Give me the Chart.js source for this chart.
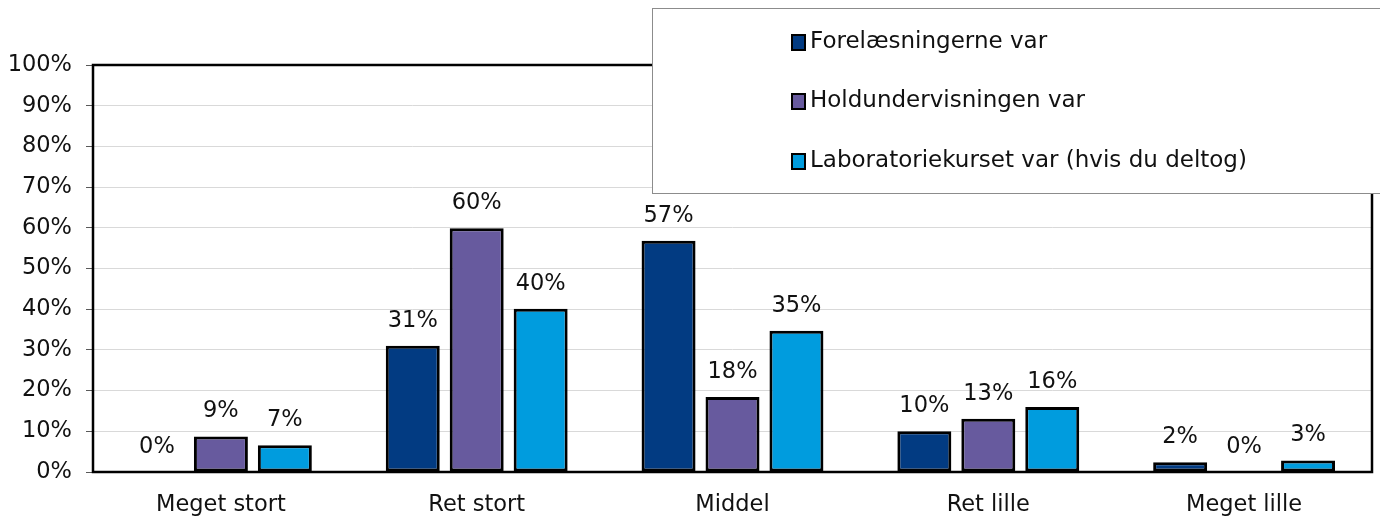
<!DOCTYPE html>
<html>
<head>
<meta charset="utf-8">
<script src="https://cdn.jsdelivr.net/npm/chart.js@4/dist/chart.umd.min.js"></script>
<style>
html,body{margin:0;padding:0;background:#fff;}
#wrap{width:1380px;height:519px;position:relative;}
</style>
</head>
<body>
<div id="wrap"><canvas id="c" width="1380" height="519"></canvas></div>
<script>
const categories = ["Meget stort", "Ret stort", "Middel", "Ret lille", "Meget lille"];
const seriesNames = ["Forelæsningerne var", "Holdundervisningen var", "Laboratoriekurset var (hvis du deltog)"];
const forelaesninger = [0, 0.31, 0.568, 0.10, 0.024];
const holdundervisning = [0.087, 0.599, 0.184, 0.131, 0];
const laboratorie = [0.066, 0.401, 0.347, 0.16, 0.028];
const yTicks = [0, 0.1, 0.2, 0.3, 0.4, 0.5, 0.6, 0.7, 0.8, 0.9, 1.0];
const colors = ["#023B82", "#675A9E", "#009CDE"];

const FONT = "'DejaVu Sans', sans-serif";

const labelPlugin = {
  id: 'valueLabels',
  afterDatasetsDraw(chart) {
    const ctx = chart.ctx;
    ctx.save();
    ctx.font = "22.5px " + FONT;
    ctx.fillStyle = "#111";
    ctx.textAlign = "center";
    ctx.textBaseline = "middle";
    chart.data.datasets.forEach((ds, i) => {
      const meta = chart.getDatasetMeta(i);
      meta.data.forEach((bar, j) => {
        const v = ds.data[j];
        ctx.fillText(Math.round(v * 100) + "%", bar.x, bar.y - 25);
      });
    });
    // plot frame
    const a = chart.chartArea;
    ctx.strokeStyle = "#000";
    ctx.lineWidth = 2.5;
    ctx.strokeRect(a.left, a.top, a.right - a.left, a.bottom - a.top);
    ctx.restore();
  },
  afterDraw(chart) {
    const ctx = chart.ctx;
    ctx.save();
    // legend box
    const bx = 652.5, by = 8.5, bw = 760, bh = 185;
    ctx.fillStyle = "#fff";
    ctx.fillRect(bx, by, bw, bh);
    ctx.strokeStyle = "#8c8c8c";
    ctx.lineWidth = 1;
    ctx.strokeRect(bx, by, bw, bh);
    ctx.font = "23px " + FONT;
    ctx.textAlign = "left";
    ctx.textBaseline = "middle";
    const ys = [42, 101, 161];
    chart.data.datasets.forEach((ds, i) => {
      const y = ys[i];
      ctx.fillStyle = ds.backgroundColor;
      ctx.fillRect(792, y - 7, 13, 15);
      ctx.strokeStyle = "#000";
      ctx.lineWidth = 2;
      ctx.strokeRect(792, y - 7, 13, 15);
      ctx.fillStyle = "#111";
      ctx.fillText(ds.label, 810, y);
    });
    ctx.restore();
  }
};

const seriesData = [forelaesninger, holdundervisning, laboratorie];

new Chart(document.getElementById('c'), {
  type: 'bar',
  data: {
    labels: categories,
    datasets: seriesNames.map((name, i) => ({
      label: name,
      data: seriesData[i],
      backgroundColor: colors[i],
      borderColor: "#000",
      borderWidth: 3,
      borderSkipped: false,
      barPercentage: 0.844,
      categoryPercentage: 0.75
    }))
  },
  options: {
    responsive: false,
    animation: false,
    devicePixelRatio: 1,
    layout: { padding: { top: 65, right: 8, left: 0, bottom: 0 } },
    plugins: { legend: { display: false }, tooltip: { enabled: false } },
    scales: {
      x: {
        grid: { display: false, drawTicks: false },
        border: { display: false },
        ticks: { font: { family: FONT, size: 22.5 }, color: "#111", padding: 20, maxRotation: 0 },
        afterFit(scale) { scale.height = 47; }
      },
      y: {
        min: 0, max: 1,
        afterBuildTicks(scale) { scale.ticks = yTicks.map(v => ({ value: v })); },
        grid: { color: "#d9d9d9", lineWidth: 1, tickLength: 7, tickColor: "#595959" },
        border: { display: false },
        ticks: {
          font: { family: FONT, size: 22.5 }, color: "#111", padding: 14,
          callback: v => Math.round(v * 100) + "%"
        },
        afterFit(scale) { scale.width = 93; }
      }
    }
  },
  plugins: [labelPlugin]
});
</script>
</body>
</html>
